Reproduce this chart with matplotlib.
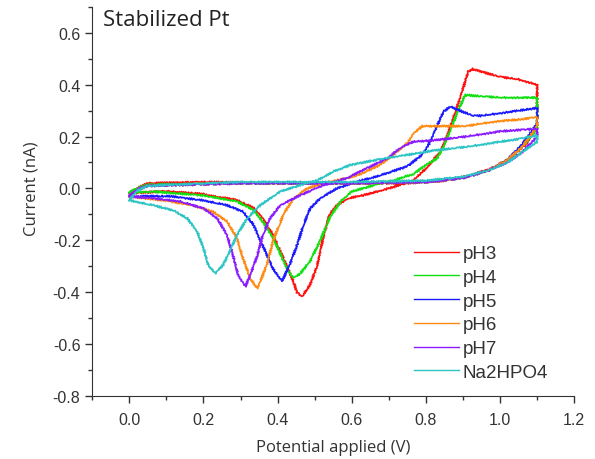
import matplotlib.pyplot as plt
import numpy as np

# forward scan (0 -> 1.1 V) then reverse scan (1.1 -> 0 V)
ph3_v = [0.0, 0.02, 0.05, 0.2, 0.4, 0.6, 0.75, 0.85, 0.92, 0.98, 1.03, 1.07, 1.1,
         1.1, 1.05, 1.0, 0.95, 0.925, 0.914, 0.897, 0.874, 0.852, 0.838, 0.80, 0.766, 0.70,
         0.63, 0.59, 0.56, 0.54, 0.523, 0.506, 0.488, 0.466, 0.452, 0.443, 0.416, 0.388,
         0.36, 0.335, 0.29, 0.2, 0.1, 0.0]
ph3_i = [-0.02, 0.0, 0.02, 0.025, 0.02, 0.02, 0.02, 0.03, 0.05, 0.08, 0.12, 0.17, 0.24,
         0.40, 0.42, 0.43, 0.45, 0.46, 0.45, 0.37, 0.27, 0.18, 0.14, 0.077, 0.03, 0.0,
         -0.027, -0.038, -0.065, -0.10, -0.19, -0.30, -0.37, -0.416, -0.40, -0.36, -0.27, -0.18,
         -0.115, -0.075, -0.045, -0.022, -0.01, -0.02]

ph4_v = [0.0, 0.02, 0.05, 0.3, 0.6, 0.8, 0.9, 0.97, 1.02, 1.06, 1.1,
         1.1, 1.05, 1.0, 0.95, 0.906, 0.887, 0.865, 0.847, 0.83, 0.80, 0.766, 0.72, 0.66,
         0.60, 0.57, 0.54, 0.515, 0.488, 0.46, 0.443, 0.43, 0.416, 0.388, 0.36, 0.335,
         0.29, 0.2, 0.065, 0.0]
ph4_i = [-0.015, 0.0, 0.015, 0.02, 0.02, 0.025, 0.04, 0.07, 0.11, 0.16, 0.23,
         0.35, 0.35, 0.35, 0.355, 0.36, 0.30, 0.22, 0.16, 0.115, 0.09, 0.055, 0.035, 0.012,
         -0.012, -0.05, -0.115, -0.20, -0.28, -0.33, -0.345, -0.32, -0.28, -0.19, -0.128, -0.083,
         -0.05, -0.027, -0.012, -0.015]

ph5_v = [0.0, 0.02, 0.05, 0.3, 0.6, 0.8, 0.9, 0.97, 1.02, 1.06, 1.1,
         1.1, 1.05, 1.0, 0.95, 0.928, 0.9, 0.865, 0.847, 0.83, 0.81, 0.79, 0.75, 0.676,
         0.615, 0.56, 0.515, 0.488, 0.47, 0.452, 0.434, 0.412, 0.388, 0.36, 0.335, 0.307,
         0.264, 0.2, 0.11, 0.0]
ph5_i = [-0.03, -0.005, 0.01, 0.02, 0.02, 0.025, 0.04, 0.07, 0.11, 0.17, 0.25,
         0.31, 0.30, 0.29, 0.28, 0.28, 0.295, 0.315, 0.295, 0.24, 0.175, 0.13, 0.085, 0.05,
         0.027, 0.0, -0.038, -0.077, -0.14, -0.22, -0.29, -0.358, -0.31, -0.22, -0.14, -0.09,
         -0.065, -0.046, -0.03, -0.03]

ph6_v = [0.0, 0.02, 0.05, 0.3, 0.6, 0.8, 0.9, 0.97, 1.02, 1.06, 1.1,
         1.1, 1.05, 1.0, 0.95, 0.91, 0.85, 0.79, 0.766, 0.75, 0.73, 0.676, 0.615, 0.54,
         0.48, 0.443, 0.416, 0.388, 0.372, 0.353, 0.345, 0.326, 0.307, 0.29, 0.264, 0.226,
         0.172, 0.092, 0.0]
ph6_i = [-0.03, -0.005, 0.01, 0.02, 0.02, 0.025, 0.04, 0.07, 0.11, 0.16, 0.24,
         0.275, 0.265, 0.26, 0.25, 0.24, 0.24, 0.24, 0.21, 0.175, 0.15, 0.09, 0.05, 0.025,
         0.0, -0.038, -0.10, -0.20, -0.29, -0.36, -0.385, -0.346, -0.27, -0.19, -0.128, -0.09,
         -0.065, -0.046, -0.031]

ph7_v = [0.0, 0.02, 0.05, 0.3, 0.6, 0.8, 0.9, 0.97, 1.02, 1.06, 1.1,
         1.1, 1.05, 1.0, 0.91, 0.82, 0.766, 0.73, 0.695, 0.64, 0.587, 0.523, 0.46, 0.407,
         0.38, 0.36, 0.345, 0.326, 0.313, 0.294, 0.28, 0.264, 0.237, 0.2, 0.137, 0.065, 0.0]
ph7_i = [-0.03, -0.005, 0.01, 0.02, 0.02, 0.025, 0.04, 0.07, 0.10, 0.14, 0.20,
         0.23, 0.225, 0.22, 0.20, 0.185, 0.18, 0.155, 0.115, 0.077, 0.04, 0.012, -0.027, -0.065,
         -0.115, -0.18, -0.26, -0.335, -0.378, -0.335, -0.26, -0.18, -0.115, -0.077, -0.05, -0.038, -0.031]

na_v = [0.0, 0.02, 0.05, 0.3, 0.6, 0.8, 0.9, 0.97, 1.02, 1.06, 1.1,
        1.1, 1.05, 1.0, 0.91, 0.82, 0.776, 0.685, 0.596, 0.55, 0.506, 0.46, 0.407, 0.353,
        0.318, 0.29, 0.272, 0.253, 0.232, 0.213, 0.2, 0.183, 0.156, 0.119, 0.065, 0.0]
na_i = [-0.046, -0.01, 0.01, 0.025, 0.025, 0.03, 0.045, 0.07, 0.10, 0.14, 0.18,
        0.205, 0.19, 0.18, 0.16, 0.146, 0.135, 0.115, 0.09, 0.065, 0.031, 0.012, -0.012, -0.065,
        -0.115, -0.18, -0.24, -0.295, -0.327, -0.295, -0.23, -0.165, -0.115, -0.085, -0.065, -0.046]

labels = ['pH3', 'pH4', 'pH5', 'pH6', 'pH7', 'Na2HPO4']
colors = ['#ff1010', '#10e010', '#1a1aff', '#ff8a10', '#8a1aff', '#2cc4c4']
curves = [(ph3_v, ph3_i), (ph4_v, ph4_i), (ph5_v, ph5_i),
          (ph6_v, ph6_i), (ph7_v, ph7_i), (na_v, na_i)]

fig = plt.figure(figsize=(5.95, 4.6), dpi=100)
ax = fig.add_axes([0.155, 0.137, 0.81, 0.846])

for (v, i), lab, c in zip(curves, labels, colors):
    ln, = ax.plot(v, i, color=c, lw=1.25, label=lab)
    ln.set_sketch_params(0.9, 2.0, 1.5)  # noisy look of the measured traces

ax.set_xlim(-0.1, 1.2)
ax.set_ylim(-0.8, 0.7)
ax.set_xticks(np.arange(0.0, 1.21, 0.2))
ax.set_xticks(np.arange(-0.1, 1.21, 0.1), minor=True)
ax.set_yticks(np.arange(-0.8, 0.61, 0.2))
ax.set_yticks(np.arange(-0.8, 0.71, 0.1), minor=True)
fmt = plt.FuncFormatter(lambda val, pos: '%.1f' % (round(val, 1) + 0.0))
ax.xaxis.set_major_formatter(fmt)
ax.yaxis.set_major_formatter(fmt)
for s in ['top', 'right']:
    ax.spines[s].set_visible(False)
for s in ['left', 'bottom']:
    ax.spines[s].set_color('#333333')
ax.tick_params(which='major', direction='out', length=5, width=1, color='#333333',
               labelsize=11.5, labelcolor='#333333')
ax.tick_params(axis='x', which='major', pad=6.5)
ax.tick_params(which='minor', direction='out', length=3, width=1, color='#333333')
for t in ax.get_xticklabels() + ax.get_yticklabels():
    t.set_family('Liberation Sans')

ax.set_xlabel('Potential applied (V)', fontsize=12, family='Open Sans', color='#333333', labelpad=9)
ax.set_ylabel('Current (nA)', fontsize=12, family='Open Sans', color='#333333')
ax.yaxis.set_label_coords(-0.11, 0.535)
ax.text(0.023, 0.995, 'Stabilized Pt', transform=ax.transAxes, ha='left', va='top',
        fontsize=16, family='Open Sans', color='#222222')

leg = ax.legend(loc='lower left', bbox_to_anchor=(0.649, 0.015), frameon=False,
                prop={'family': 'Liberation Sans', 'size': 13.5}, handlelength=2.4,
                handletextpad=0.16, labelspacing=0.35, borderpad=0, labelcolor='#333333')
for h in leg.get_lines():
    h.set_linewidth(1.0)
    h.set_sketch_params(None)

fig.savefig('out.png', dpi=100)
